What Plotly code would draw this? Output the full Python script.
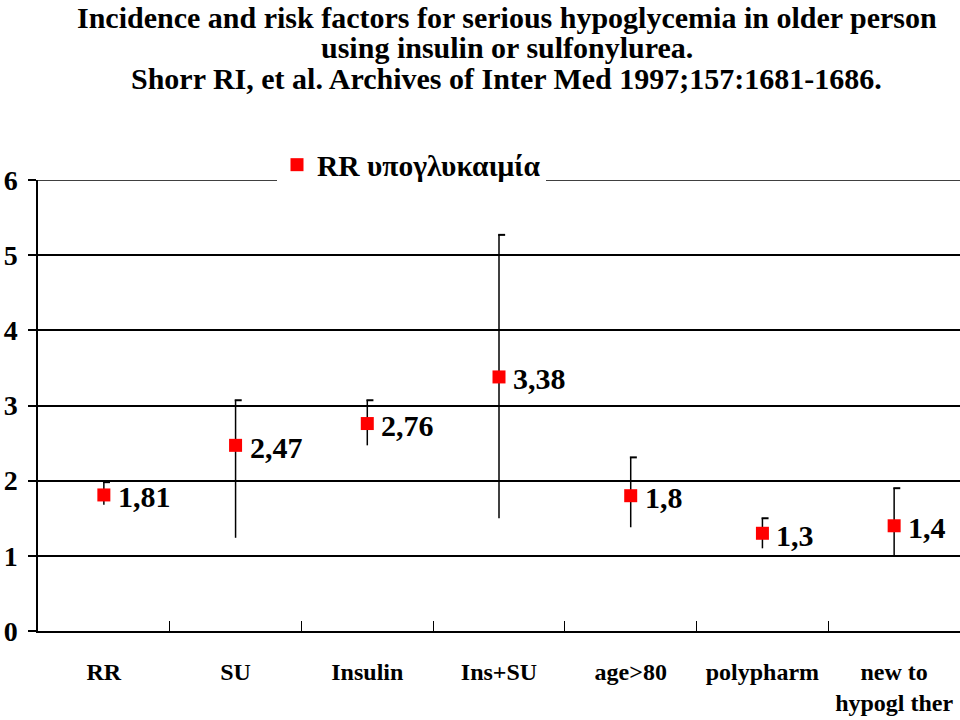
import plotly.graph_objects as go

categories = ["RR", "SU", "Insulin", "Ins+SU", "age>80", "polypharm", "new to<br>hypogl ther"]
rr_values = [1.81, 2.47, 2.76, 3.38, 1.8, 1.3, 1.4]
ci_upper = [1.98, 3.07, 3.07, 5.27, 2.31, 1.50, 1.90]
ci_lower = [1.68, 1.24, 2.47, 1.50, 1.38, 1.10, 1.01]
y_ticks = [0, 1, 2, 3, 4, 5, 6]
series_name = "RR υπογλυκαιμία"
title_lines = [
    "Incidence and risk factors for serious hypoglycemia in older person",
    "using insulin or sulfonylurea.",
    "Shorr RI, et al. Archives of Inter Med 1997;157:1681-1686.",
]

FONT = "Liberation Serif"
idx = list(range(len(categories)))

W, H = 960, 720
L, R, T, B = 38, 0, 180, 89
PW, PH = W - L - R, H - T - B

fig = go.Figure()

# error bars (no caps)
fig.add_trace(go.Scatter(
    x=idx, y=rr_values, mode="markers",
    marker=dict(size=1, opacity=0),
    error_y=dict(type="data", symmetric=False,
                 array=[u - v for u, v in zip(ci_upper, rr_values)],
                 arrayminus=[v - l for v, l in zip(rr_values, ci_lower)],
                 color="black", thickness=1.5, width=0),
    showlegend=False, hoverinfo="skip"))

# small top caps
fig.add_trace(go.Scatter(
    x=[i + 0.02 for i in idx], y=ci_upper, mode="markers",
    marker=dict(symbol="line-ew", size=5, line=dict(color="black", width=2)),
    showlegend=False, hoverinfo="skip"))

# main markers
fig.add_trace(go.Scatter(
    x=idx, y=rr_values, mode="markers", name=f"<b>{series_name}</b>",
    marker=dict(symbol="square", size=13, color="#FF0000"),
    showlegend=True))

annotations = []
for i, v in zip(idx, rr_values):
    annotations.append(dict(
        x=i, y=v, xref="x", yref="y", text="<b>" + f"{v:g}".replace(".", ",") + "</b>",
        showarrow=False, xanchor="left", yanchor="middle", xshift=12, yshift=-2,
        font=dict(family=FONT, size=30, color="black")))

# title lines (pixel centres)
title_y = [17, 47, 78]
for line, fy in zip(title_lines, title_y):
    annotations.append(dict(
        x=(507 - L) / PW, y=1 + (T - fy) / PH, xref="paper", yref="paper",
        text=f"<b>{line}</b>", showarrow=False, xanchor="center", yanchor="middle",
        font=dict(family=FONT, size=30, color="black")))

fig.update_layout(
    width=W, height=H,
    margin=dict(l=L, r=R, t=T, b=B, pad=0, autoexpand=False),
    paper_bgcolor="white", plot_bgcolor="white",
    font=dict(family=FONT, color="black"),
    annotations=annotations,
    legend=dict(x=(277 - L) / PW, xanchor="left", y=1 + (T - 165) / PH, yanchor="middle",
                bgcolor="white", font=dict(family=FONT, size=29.5, color="black"),
                orientation="h", itemwidth=30),
    xaxis=dict(range=[-0.5, len(categories) - 0.5], tickmode="array", tickvals=idx,
               ticktext=[f"<b>{c}</b>" for c in categories], automargin=False,
               showgrid=False, zeroline=False, showline=True, linecolor="black", linewidth=1.5,
               ticks="", tickfont=dict(family=FONT, size=24, color="black"),
               ticklabelstandoff=18),
    yaxis=dict(range=[0, 6], tickmode="array", tickvals=y_ticks,
               ticktext=[f"<b>{t}</b>" for t in y_ticks], automargin=False,
               showgrid=True, gridcolor="black", gridwidth=1.5,
               zeroline=False, showline=True, linecolor="black", linewidth=1.5,
               ticks="outside", ticklen=8, tickcolor="black", tickwidth=1.5,
               ticklabelstandoff=5,
               tickfont=dict(family=FONT, size=28, color="black")),
    xaxis2=dict(overlaying="x", range=[-0.5, len(categories) - 0.5],
                tickmode="array", tickvals=[i + 0.5 for i in idx],
                ticktext=["" for _ in idx], ticks="inside", ticklen=10,
                tickcolor="black", tickwidth=1.2, side="bottom", automargin=False,
                showgrid=False, zeroline=False, showline=False, anchor="y"),
)
fig.add_trace(go.Scatter(x=[], y=[], xaxis="x2", showlegend=False))

# top gridline (plotly omits the gridline at the range edge)
fig.add_shape(type="line", xref="paper", x0=-8 / PW, x1=1, yref="y", y0=y_ticks[-1], y1=y_ticks[-1],
              line=dict(color="black", width=1.5), layer="below")

# remove the default 8px page margin so the figure fills the window
fig.write_html("out.html", config={"displayModeBar": False},
               post_script="document.body.style.margin='0px';")
